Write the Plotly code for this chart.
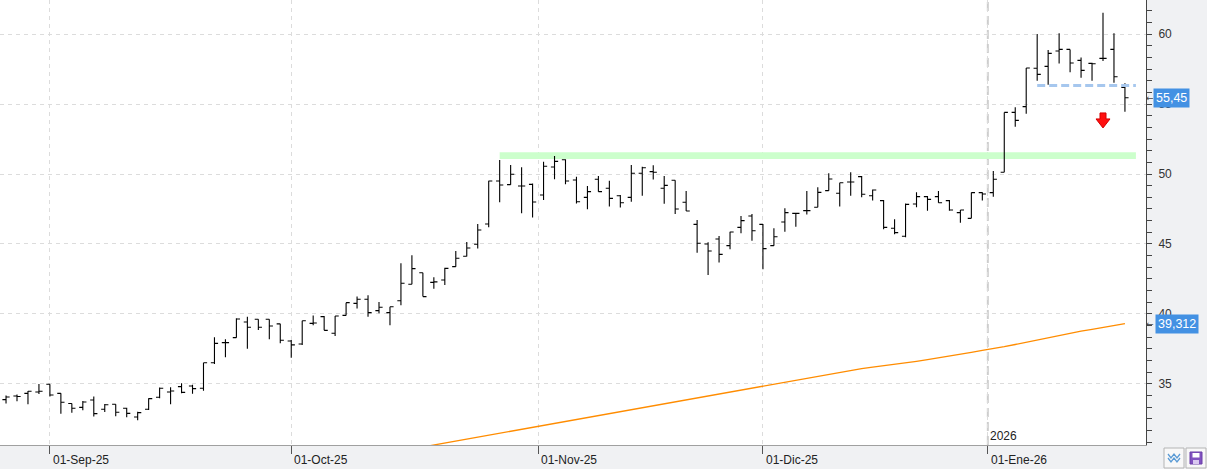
import plotly.graph_objects as go

# ---------------- data ----------------
bar_index = list(range(103))

open_ = [33.88, 34.14, 34.33, 34.43, 34.98, 34.33, 33.60, 33.33, 33.86, 33.19,
         33.55, 33.26, 32.64, 33.19, 34.05, 34.43, 34.81, 34.86, 34.69, 36.52,
         37.95, 38.31, 39.43, 39.62, 39.62, 39.29, 38.07, 37.86, 39.33, 39.81,
         38.62, 39.90, 40.76, 41.05, 40.24, 40.10, 40.95, 42.12, 42.95, 42.26,
         42.43, 43.38, 44.12, 44.98, 46.43, 49.50, 49.24, 49.14, 49.26, 48.50,
         50.50, 51.02, 49.57, 48.33, 49.62, 48.98, 48.45, 48.33, 50.05, 50.17,
         48.98, 49.55, 47.98, 46.40, 45.00, 45.36, 44.88, 46.19, 47.00, 46.40,
         44.88, 46.57, 47.19, 47.38, 47.62, 48.81, 48.62, 49.43, 49.81, 48.45,
         48.10, 46.12, 45.55, 47.86, 48.38, 48.38, 48.10, 47.24, 46.83, 48.67,
         48.67, 50.12, 54.40, 54.81, 57.55, 57.69, 58.79, 58.90, 58.12, 57.90,
         58.26, 58.90, 56.19]
high = [34.17, 34.24, 34.50, 35.00, 34.98, 34.33, 33.60, 33.79, 34.10, 33.57,
        33.55, 33.31, 33.02, 33.98, 34.74, 34.76, 35.05, 34.95, 36.52, 38.33,
        38.19, 39.69, 39.81, 39.62, 39.62, 39.31, 38.14, 39.52, 39.90, 39.86,
        39.86, 40.81, 41.24, 41.33, 40.86, 40.52, 43.62, 44.19, 42.95, 42.62,
        43.31, 44.50, 45.14, 46.43, 49.52, 51.00, 50.64, 50.48, 49.33, 50.88,
        51.29, 51.05, 49.81, 49.14, 49.86, 49.52, 48.50, 50.64, 50.52, 50.62,
        49.86, 49.55, 48.79, 46.71, 45.12, 45.57, 45.88, 47.00, 47.14, 46.43,
        46.12, 47.55, 47.24, 48.79, 49.05, 50.05, 49.38, 50.12, 49.86, 48.90,
        48.14, 46.76, 47.90, 48.69, 48.43, 48.79, 48.14, 47.43, 48.67, 48.69,
        50.21, 54.40, 54.76, 57.57, 60.00, 58.86, 60.05, 58.90, 58.33, 57.95,
        61.52, 60.05, 56.48]
low = [33.60, 33.76, 33.55, 34.29, 34.10, 32.88, 32.95, 33.12, 32.67, 33.00,
       32.69, 32.62, 32.40, 33.14, 33.98, 33.55, 34.33, 34.31, 34.52, 36.43,
       36.90, 38.31, 37.52, 38.86, 38.19, 37.90, 36.88, 37.79, 39.20, 38.83,
       38.43, 39.90, 40.40, 39.81, 40.05, 39.19, 40.62, 42.12, 41.24, 41.81,
       42.07, 43.38, 44.10, 44.67, 46.19, 47.98, 49.24, 47.19, 46.90, 48.14,
       49.62, 49.26, 47.90, 47.48, 48.74, 47.67, 47.60, 48.02, 48.45, 49.60,
       47.88, 47.14, 47.36, 44.38, 42.79, 43.67, 44.62, 45.76, 45.24, 43.19,
       44.88, 45.88, 46.24, 47.10, 47.62, 48.81, 47.67, 48.45, 48.33, 48.10,
       46.05, 45.69, 45.48, 47.62, 47.38, 47.95, 47.38, 46.52, 46.83, 48.10,
       48.38, 50.12, 53.38, 54.31, 56.67, 56.38, 57.90, 57.26, 56.88, 56.67,
       58.07, 56.52, 54.45]
close = [34.07, 34.10, 34.48, 34.48, 34.21, 33.69, 33.26, 33.71, 32.88, 33.52,
         32.98, 32.90, 32.95, 33.95, 34.69, 34.50, 34.40, 34.67, 36.52, 37.90,
         37.95, 39.64, 39.05, 39.05, 39.14, 38.12, 37.79, 39.52, 39.36, 38.83,
         39.86, 40.81, 41.05, 40.10, 40.48, 40.52, 42.19, 43.24, 41.24, 42.29,
         43.26, 43.98, 44.71, 46.00, 49.50, 49.21, 49.98, 49.14, 48.00, 50.55,
         50.90, 49.50, 48.02, 48.74, 48.74, 48.26, 47.95, 50.05, 50.45, 50.12,
         49.19, 47.50, 47.36, 45.05, 44.50, 44.26, 45.86, 46.67, 45.95, 44.67,
         45.52, 47.24, 47.19, 47.38, 48.69, 49.64, 49.38, 49.43, 48.55, 48.86,
         46.19, 45.81, 47.83, 48.38, 48.19, 47.95, 47.43, 47.43, 48.67, 48.57,
         49.62, 54.40, 53.83, 57.57, 57.12, 58.62, 58.90, 57.93, 57.40, 57.88,
         58.26, 56.95, 55.45]

# moving average (orange line) – visible part
ma_index = list(range(38, 103))
ma_values = [30.50, 30.64, 30.78, 30.93, 31.07, 31.21, 31.36, 31.50, 31.64, 31.79,
             31.93, 32.07, 32.21, 32.35, 32.49, 32.63, 32.77, 32.91, 33.05, 33.19,
             33.33, 33.47, 33.61, 33.75, 33.89, 34.03, 34.17, 34.31, 34.45, 34.58,
             34.72, 34.86, 35.00, 35.14, 35.28, 35.42, 35.55, 35.69, 35.83, 35.96,
             36.10, 36.21, 36.30, 36.40, 36.50, 36.62, 36.74, 36.86, 36.98, 37.12,
             37.26, 37.40, 37.52, 37.66, 37.82, 37.98, 38.15, 38.32, 38.50, 38.64,
             38.77, 38.90, 39.04, 39.17, 39.312]

# x-axis month ticks (bar positions) and labels
month_tick_pos = [4, 26, 48.5, 69, 89.5]
month_tick_text = ["01-Sep-25", "01-Oct-25", "01-Nov-25", "01-Dic-25", "01-Ene-26"]
year_sep_pos = 89.5
year_label = "2026"

# chart annotations (levels)
resistance_level = (51.08, 51.56)
resistance_start, resistance_end = 45, 103
support_level = 56.33
support_start, support_end = 94, 103
signal_bar, signal_price = 100.0, 53.79
last_close_label = "55,45"
ma_last_label = "39,312"

# ---------------- figure ----------------
fig = go.Figure()

fig.add_trace(go.Ohlc(
    x=bar_index, open=open_, high=high, low=low, close=close,
    increasing=dict(line=dict(color="black", width=1.1)),
    decreasing=dict(line=dict(color="black", width=1.1)),
    tickwidth=0.33, hoverinfo="skip", showlegend=False))

fig.add_trace(go.Scatter(
    x=ma_index, y=ma_values, mode="lines",
    line=dict(color="#ff8c00", width=1.3), hoverinfo="skip", showlegend=False))

font_family = "Liberation Sans, Arial, sans-serif"

fig.update_layout(
    width=1207, height=469, autosize=False,
    margin=dict(l=0, r=61, t=0, b=24, pad=0),
    paper_bgcolor="#f0f1f3", plot_bgcolor="white",
    showlegend=False,
    font=dict(family=font_family, size=12, color="#333"),
    xaxis=dict(
        range=[-0.55, 103.92], tickmode="array", tickvals=month_tick_pos,
        ticktext=[""] * len(month_tick_pos), showticklabels=False,
        ticks="outside", ticklen=8, tickcolor="#555", tickwidth=1,
        showgrid=True, gridcolor="#dcdcdc", griddash="4px,4px", gridwidth=1,
        zeroline=False, showline=True, linecolor="#a0a0a0", linewidth=1,
        rangeslider=dict(visible=False), fixedrange=True),
    yaxis=dict(
        side="right", range=[30.64, 62.43], tick0=0, dtick=5,
        ticks="outside", ticklen=5, tickcolor="#444", tickwidth=1,
        showline=True, linecolor="#444", linewidth=1,
        showgrid=True, gridcolor="#dcdcdc", griddash="4px,4px", gridwidth=1,
        zeroline=False, tickfont=dict(size=12, color="#333"),
        ticklabelstandoff=4,
        minor=dict(tick0=0, dtick=5 / 6, ticks="outside", ticklen=5,
                   tickcolor="#444", showgrid=False),
        fixedrange=True),
)

shapes = []
# resistance band (green)
shapes.append(dict(type="rect", xref="x", yref="y",
                   x0=resistance_start, x1=resistance_end,
                   y0=resistance_level[0], y1=resistance_level[1],
                   fillcolor="#ccffcc", line=dict(width=0), layer="between"))
# year separator
shapes.append(dict(type="line", xref="x", yref="paper", x0=year_sep_pos, x1=year_sep_pos,
                   y0=0, y1=1, line=dict(color="#cdcdcd", width=2, dash="9px,5px"),
                   layer="between"))
# support dashed line (light blue)
shapes.append(dict(type="line", xref="x", yref="y", x0=support_start, x1=support_end,
                   y0=support_level, y1=support_level,
                   line=dict(color="#a6c7ee", width=3, dash="8px,4px")))
# red down arrow signal
shapes.append(dict(type="path", xref="x", yref="y",
                   xsizemode="pixel", ysizemode="pixel",
                   xanchor=signal_bar, yanchor=signal_price,
                   path="M-3,8 L3,8 L3,2 L7,2 L0,-7 L-7,2 L-3,2 Z",
                   fillcolor="#ff1010", line=dict(color="#d40000", width=1)))
# bottom-right buttons
for x0 in (18, 40):
    shapes.append(dict(type="rect", xref="paper", yref="paper",
                       xsizemode="pixel", ysizemode="pixel", xanchor=1, yanchor=0,
                       x0=x0, x1=x0 + 20, y0=-3, y1=-23,
                       fillcolor="#f8f8f8", line=dict(color="#b4b4b4", width=1)))
# wave icon
for dy in (0, -4):
    shapes.append(dict(type="path", xref="paper", yref="paper",
                       xsizemode="pixel", ysizemode="pixel", xanchor=1, yanchor=0,
                       path=f"M22,{-9 + dy} L25,{-13 + dy} L28,{-9 + dy} L31,{-13 + dy} L34,{-9 + dy}",
                       line=dict(color="#5b9bd5", width=1.3)))
# floppy icon
shapes.append(dict(type="rect", xref="paper", yref="paper",
                   xsizemode="pixel", ysizemode="pixel", xanchor=1, yanchor=0,
                   x0=44, x1=56, y0=-7, y1=-19,
                   fillcolor="#8152c0", line=dict(color="#6a3fa8", width=1)))
shapes.append(dict(type="rect", xref="paper", yref="paper",
                   xsizemode="pixel", ysizemode="pixel", xanchor=1, yanchor=0,
                   x0=46.5, x1=53.5, y0=-8, y1=-12.5,
                   fillcolor="white", line=dict(width=0)))
shapes.append(dict(type="rect", xref="paper", yref="paper",
                   xsizemode="pixel", ysizemode="pixel", xanchor=1, yanchor=0,
                   x0=47, x1=53, y0=-15, y1=-19,
                   fillcolor="#d9c8f0", line=dict(width=0)))
fig.update_layout(shapes=shapes)

annotations = []
for pos, txt in zip(month_tick_pos, month_tick_text):
    annotations.append(dict(x=pos, y=0, xref="x", yref="paper", text=txt,
                            showarrow=False, xanchor="left", yanchor="top",
                            xshift=1, yshift=-6,
                            font=dict(size=12, color="#222", family=font_family)))
annotations.append(dict(x=year_sep_pos, y=0, xref="x", yref="paper", text=year_label,
                        showarrow=False, xanchor="left", yanchor="bottom",
                        xshift=0, yshift=0,
                        font=dict(size=12, color="#222", family=font_family)))
for val, label, shift in ((close[-1], last_close_label, 7), (ma_values[-1], ma_last_label, 9)):
    annotations.append(dict(x=1, y=val, xref="paper", yref="y", text="←",
                            showarrow=False, xanchor="left", yanchor="middle",
                            xshift=-1, borderpad=0,
                            font=dict(size=9, color="#444", family="DejaVu Sans")))
    annotations.append(dict(x=1, y=val, xref="paper", yref="y", text=label,
                            showarrow=False, xanchor="left", yanchor="middle",
                            xshift=shift, bgcolor="#4391e3", borderpad=2,
                            font=dict(size=12.5, color="white", family=font_family)))
fig.update_layout(annotations=annotations)

fig.write_html("out.html")
